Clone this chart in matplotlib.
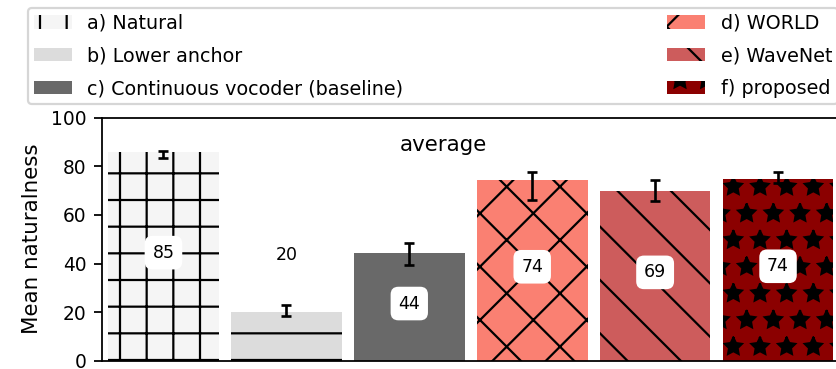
import matplotlib
matplotlib.use("Agg")
import matplotlib.pyplot as plt
import numpy as np

# ---- data ----
systems = ["a) Natural", "b) Lower anchor", "c) Continuous vocoder (baseline)",
           "d) WORLD", "e) WaveNet", "f) proposed"]
means = [86.0, 20.3, 44.2, 74.4, 69.8, 74.8]
value_labels = ["85", "20", "44", "74", "69", "74"]
ci_low = [83.5, 18.3, 39.5, 66.1, 65.9, 73.1]
ci_high = [86.4, 23.0, 48.3, 77.5, 74.4, 77.5]
colors = ["whitesmoke", "gainsboro", "dimgray", "salmon", "indianred", "darkred"]
hatches = ["+", "-", "", "x", "\\", "*"]
yticks = [0, 20, 40, 60, 80, 100]
panel_title = "average"
ylabel = "Mean naturalness"

W, H, DPI = 836, 369, 160
fig = plt.figure(figsize=(W / DPI, H / DPI), dpi=DPI)
ax = fig.add_axes([102 / W, 8 / H, 737.5 / W, 243.5 / H])

x = np.arange(len(systems))
bars = []
for i in range(len(systems)):
    b = ax.bar(x[i], means[i], width=0.9, color=colors[i], edgecolor="black",
               linewidth=0, hatch=hatches[i] if hatches[i] else None,
               label=systems[i], zorder=2)
    bars.append(b)

lo = np.array(ci_low)
hi = np.array(ci_high)
ax.errorbar(x, (lo + hi) / 2, yerr=(hi - lo) / 2, fmt="none", ecolor="black",
            elinewidth=1.2, capsize=2.4, capthick=1.2, zorder=3)

for i, v in enumerate(means):
    yy = v / 2 + 1.5 if v > 30 else 43.5
    ax.text(x[i], yy, value_labels[i], ha="center", va="center", fontsize=7.8,
            color="black", zorder=4,
            bbox=dict(boxstyle="round,pad=0.45", facecolor="white",
                      edgecolor="white", linewidth=0))

ax.text(2.28, 88.7, panel_title, ha="center", va="center", fontsize=9.6)

ax.set_xlim(-0.5, 5.5)
ax.set_ylim(0, 100)
ax.set_yticks(yticks)
ax.set_xticks([])
ax.tick_params(axis="y", labelsize=8.4)
ax.set_ylabel(ylabel, fontsize=9.6)

handles = [b[0] for b in bars]
leg = fig.legend(handles, systems,
                 loc="upper left", ncol=2, mode="expand",
                 bbox_to_anchor=(28 / W, 1 - 8 / H, 810 / W, 0),
                 bbox_transform=fig.transFigure, fontsize=8.6,
                 labelspacing=0.72, borderpad=0.3, borderaxespad=0)

fig.savefig("out.png", dpi=DPI)
